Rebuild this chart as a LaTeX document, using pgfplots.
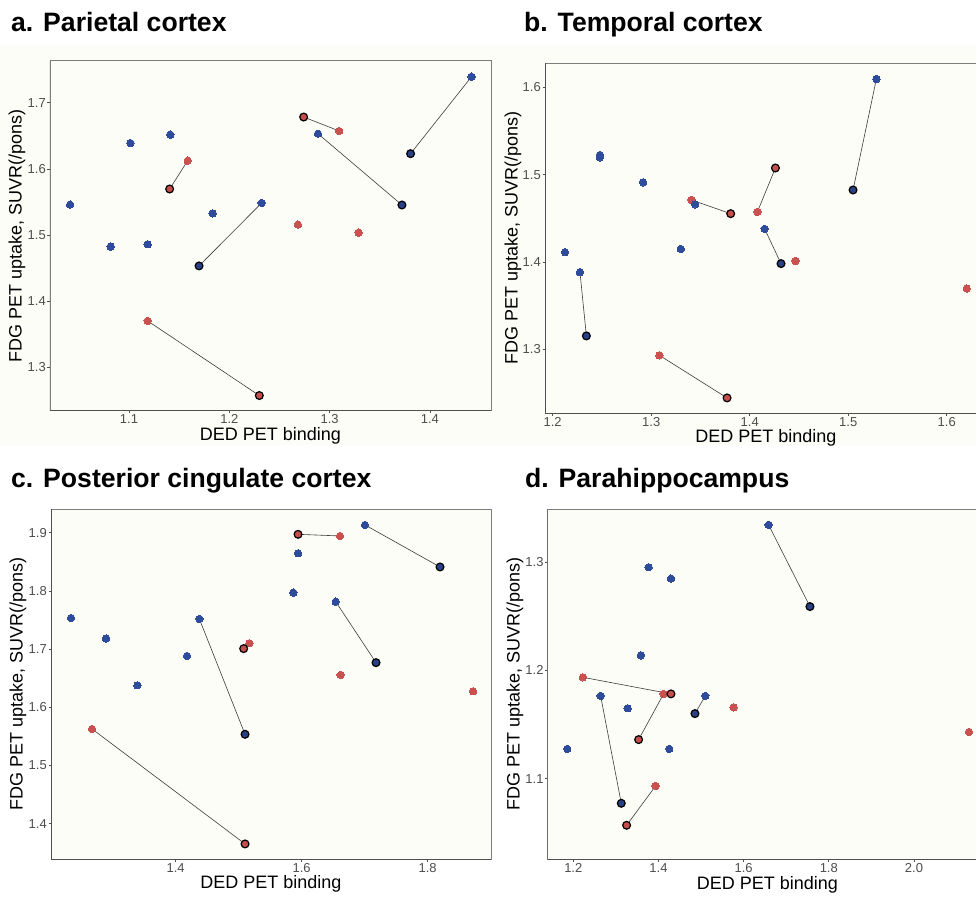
\documentclass[border=0pt]{standalone}
\usepackage{pgfplots}
\pgfplotsset{compat=1.18}
\usepackage{fontspec}
\setmainfont{Liberation Sans}
\definecolor{ivory}{RGB}{253,253,247}
\definecolor{ptblue}{RGB}{47,76,156}
\definecolor{ptred}{RGB}{201,81,80}
\definecolor{dkblue}{RGB}{40,64,132}
\definecolor{dkred}{RGB}{196,78,76}
\definecolor{framegray}{RGB}{125,125,125}
\definecolor{framedark}{RGB}{80,80,80}
\definecolor{ticktext}{RGB}{77,77,77}
\definecolor{linecol}{RGB}{60,60,60}
\pgfplotsset{
  panel/.style={
    scale only axis,
    axis background/.style={fill=ivory},
    axis line style={draw=framegray, line width=0.9pt},
    tick align=outside, major tick length=2.5pt,
    xtick pos=left, ytick pos=left,
    tick style={draw=framedark, line width=0.6pt},
    ticklabel style={font=\fontsize{13}{15}\selectfont, text=ticktext},
    xticklabel style={inner sep=1.5pt},
    yticklabel style={inner sep=1.5pt},
    label style={font=\fontsize{18}{20}\selectfont, inner sep=0.5pt},
    xlabel={DED PET binding},
    ylabel={FDG PET uptake, SUVR(/pons)},
    /pgf/number format/fixed, /pgf/number format/fixed zerofill,
    /pgf/number format/precision=1, /pgf/number format/assume math mode=true,
  },
  pairline/.style={draw=linecol, line width=0.6pt, no marks},
  bluept/.style={only marks, mark=*, mark size=3.7pt, mark options={fill=ptblue, draw=ptblue, line width=0pt}},
  redpt/.style={only marks, mark=*, mark size=3.7pt, mark options={fill=ptred, draw=ptred, line width=0pt}},
  blueout/.style={only marks, mark=*, mark size=3.9pt, mark options={fill=dkblue, draw=black, line width=1.2pt}},
  redout/.style={only marks, mark=*, mark size=3.9pt, mark options={fill=dkred, draw=black, line width=1.2pt}},
}
\newcommand{\darkframe}{\draw[framedark, line width=1pt] (rel axis cs:0,1) -- (rel axis cs:0,0) -- (rel axis cs:1,0);}
\begin{document}
\begin{tikzpicture}
\fill[white] (0pt,0pt) rectangle (976pt,896pt);
\fill[ivory] (0pt,851pt) rectangle (491pt,451pt);
\fill[ivory] (491pt,851pt) rectangle (976pt,451pt);
\node[anchor=base west, font=\fontsize{26.6}{30}\selectfont\bfseries, inner sep=0pt] at (11pt,864.3pt) {a. Parietal cortex};
\node[anchor=base west, font=\fontsize{26.6}{30}\selectfont\bfseries, inner sep=0pt] at (524pt,864.3pt) {b. Temporal cortex};
\node[anchor=base west, font=\fontsize{26.6}{30}\selectfont\bfseries, inner sep=0pt] at (11pt,408pt) {c. Posterior cingulate cortex};
\node[anchor=base west, font=\fontsize{26.6}{30}\selectfont\bfseries, inner sep=0pt] at (525pt,408pt) {d. Parahippocampus};
\pgfinterruptboundingbox

% ---------------- a. Parietal cortex
\begin{axis}[panel, at={(50pt,485.3pt)}, anchor=south west, width=441pt, height=350pt,
  xmin=1.0212, xmax=1.4609, ymin=1.2343, ymax=1.7635,
  xtick={1.1,1.2,1.3,1.4}, ytick={1.3,1.4,1.5,1.6,1.7},
  ylabel style={at={(axis description cs:-0.0748,0.5)}, anchor=center},
  xlabel style={at={(axis description cs:0.5,-0.0710)}, anchor=center}]
\addplot[pairline] coordinates {(1.2322,1.5484) (1.1698,1.4532)};
\addplot[pairline] coordinates {(1.2884,1.6531) (1.3721,1.5453)};
\addplot[pairline] coordinates {(1.4415,1.7393) (1.3807,1.6229)};
\addplot[pairline] coordinates {(1.1585,1.6123) (1.1405,1.5695)};
\addplot[pairline] coordinates {(1.1186,1.3700) (1.2299,1.2572)};
\addplot[pairline] coordinates {(1.3096,1.6572) (1.2741,1.6783)};
\addplot[redpt] coordinates {(1.1585,1.6123) (1.1186,1.3700) (1.3096,1.6572) (1.2684,1.5156) (1.3289,1.5035)};
\addplot[bluept] coordinates {(1.0412,1.5458) (1.0817,1.4824) (1.1013,1.6390) (1.1186,1.4859) (1.1412,1.6516) (1.1834,1.5327) (1.2322,1.5484) (1.2884,1.6531) (1.4415,1.7393)};
\addplot[blueout] coordinates {(1.1698,1.4532) (1.3721,1.5453) (1.3807,1.6229)};
\addplot[redout] coordinates {(1.1405,1.5695) (1.2299,1.2572) (1.2741,1.6783)};
\darkframe
\end{axis}

% ---------------- b. Temporal cortex
\begin{axis}[panel, at={(545pt,482.7pt)}, anchor=south west, width=442pt, height=350pt,
  xmin=1.1922, xmax=1.6409, ymin=1.2267, ymax=1.6275,
  xtick={1.2,1.3,1.4,1.5,1.6}, ytick={1.3,1.4,1.5,1.6},
  ylabel style={at={(axis description cs:-0.0724,0.5)}, anchor=center},
  xlabel style={at={(axis description cs:0.5,-0.0700)}, anchor=center}]
\addplot[pairline] coordinates {(1.2277,1.3882) (1.2342,1.3153)};
\addplot[pairline] coordinates {(1.3408,1.4710) (1.3807,1.4553)};
\addplot[pairline] coordinates {(1.4078,1.4573) (1.4261,1.5076)};
\addplot[pairline] coordinates {(1.4152,1.4378) (1.4318,1.3981)};
\addplot[pairline] coordinates {(1.5286,1.6095) (1.5049,1.4824)};
\addplot[pairline] coordinates {(1.3083,1.2931) (1.3770,1.2443)};
\addplot[redpt] coordinates {(1.3408,1.4710) (1.4078,1.4573) (1.4464,1.4011) (1.6203,1.3695) (1.3083,1.2931)};
\addplot[bluept] coordinates {(1.2125,1.4111) (1.2277,1.3882) (1.2480,1.5225) (1.2480,1.5198) (1.2917,1.4912) (1.3300,1.4149) (1.3445,1.4660) (1.4152,1.4378) (1.5286,1.6095)};
\addplot[blueout] coordinates {(1.2342,1.3153) (1.4318,1.3981) (1.5049,1.4824)};
\addplot[redout] coordinates {(1.3807,1.4553) (1.4261,1.5076) (1.3770,1.2443)};
\darkframe
\end{axis}

% ---------------- c. Posterior cingulate cortex
\begin{axis}[panel, at={(51pt,36.7pt)}, anchor=south west, width=440pt, height=350pt,
  xmin=1.2021, xmax=1.9005, ymin=1.3387, ymax=1.9401,
  xtick={1.4,1.6,1.8}, ytick={1.4,1.5,1.6,1.7,1.8,1.9},
  ylabel style={at={(axis description cs:-0.075,0.5)}, anchor=center},
  xlabel style={at={(axis description cs:0.5,-0.0700)}, anchor=center}]
\addplot[pairline] coordinates {(1.4376,1.7517) (1.5101,1.5535)};
\addplot[pairline] coordinates {(1.5169,1.7099) (1.5079,1.7007)};
\addplot[pairline] coordinates {(1.2672,1.5627) (1.5101,1.3651)};
\addplot[pairline] coordinates {(1.6608,1.8943) (1.5942,1.8971)};
\addplot[pairline] coordinates {(1.6540,1.7814) (1.7180,1.6766)};
\addplot[pairline] coordinates {(1.7005,1.9132) (1.8196,1.8410)};
\addplot[redpt] coordinates {(1.5169,1.7099) (1.2672,1.5627) (1.6608,1.8943) (1.6619,1.6554) (1.8720,1.6274)};
\addplot[bluept] coordinates {(1.2339,1.7534) (1.2894,1.7179) (1.3392,1.6377) (1.4180,1.6881) (1.4376,1.7517) (1.5868,1.7969) (1.5942,1.8645) (1.6540,1.7814) (1.7005,1.9132)};
\addplot[blueout] coordinates {(1.5101,1.5535) (1.7180,1.6766) (1.8196,1.8410)};
\addplot[redout] coordinates {(1.5079,1.7007) (1.5101,1.3651) (1.5942,1.8971)};
\darkframe
\end{axis}

% ---------------- d. Parahippocampus
\begin{axis}[panel, at={(547.7pt,36.7pt)}, anchor=south west, width=439.3pt, height=350pt,
  xmin=1.1399, xmax=2.1716, ymin=1.0255, ymax=1.3486,
  xtick={1.2,1.4,1.6,1.8,2.0}, ytick={1.1,1.2,1.3},
  ylabel style={at={(axis description cs:-0.0744,0.5)}, anchor=center},
  xlabel style={at={(axis description cs:0.5,-0.0720)}, anchor=center}]
\addplot[pairline] coordinates {(1.6587,1.3342) (1.7558,1.2588)};
\addplot[pairline] coordinates {(1.2227,1.1935) (1.4294,1.1782)};
\addplot[pairline] coordinates {(1.4121,1.1782) (1.3534,1.1360)};
\addplot[pairline] coordinates {(1.2642,1.1763) (1.3127,1.0772)};
\addplot[pairline] coordinates {(1.5100,1.1763) (1.4857,1.1600)};
\addplot[pairline] coordinates {(1.3933,1.0932) (1.3252,1.0569)};
\addplot[redpt] coordinates {(1.2227,1.1935) (1.4121,1.1782) (1.5765,1.1658) (1.3933,1.0932) (2.1292,1.1431)};
\addplot[bluept] coordinates {(1.6587,1.3342) (1.3769,1.2951) (1.4294,1.2846) (1.3589,1.2138) (1.2642,1.1763) (1.3276,1.1649) (1.1859,1.1274) (1.4254,1.1274) (1.5100,1.1763)};
\addplot[blueout] coordinates {(1.7558,1.2588) (1.3127,1.0772) (1.4857,1.1600)};
\addplot[redout] coordinates {(1.4294,1.1782) (1.3534,1.1360) (1.3252,1.0569)};
\darkframe
\end{axis}
\endpgfinterruptboundingbox
\end{tikzpicture}
\end{document}
